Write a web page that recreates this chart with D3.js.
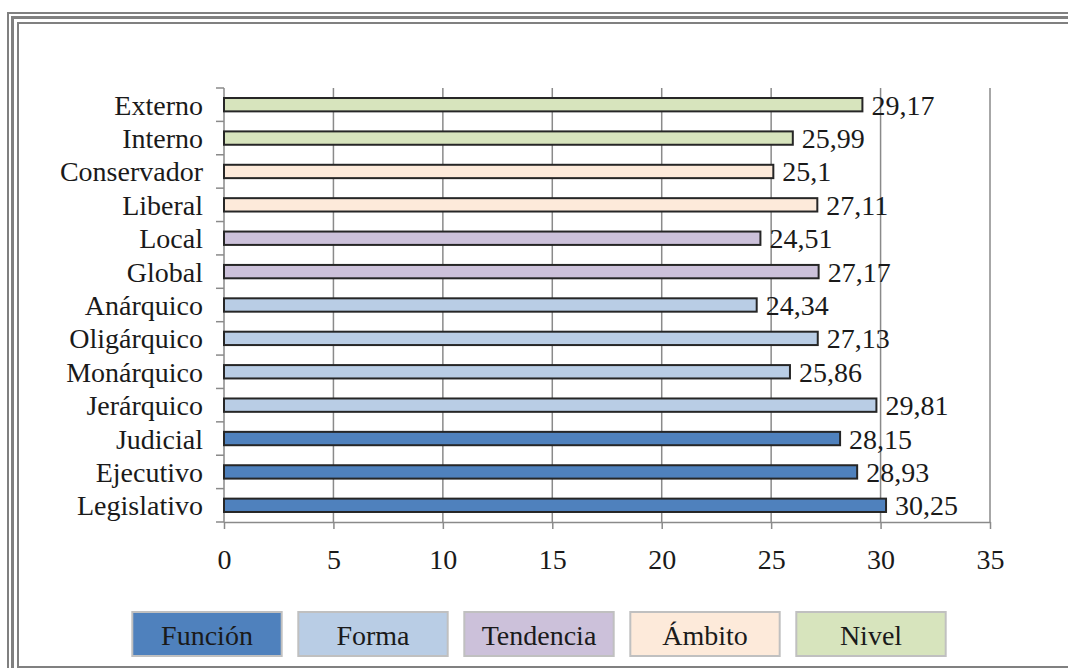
<!DOCTYPE html>
<html>
<head>
<meta charset="utf-8">
<script src="https://cdn.jsdelivr.net/npm/d3@7"></script>
<style>
  body { margin: 0; background: #fff; }
  svg text { font-family: 'Liberation Serif', 'Tinos', 'DejaVu Serif', serif !important; fill: #1a1a1a; }
</style>
</head>
<body>
<svg id="chart" width="1068" height="668"></svg>
<script>
// categories top to bottom, as in the picture
const categories = ['Externo', 'Interno', 'Conservador', 'Liberal', 'Local', 'Global',
  'Anárquico', 'Oligárquico', 'Monárquico', 'Jerárquico', 'Judicial', 'Ejecutivo', 'Legislativo'];
const values = [29.17, 25.99, 25.1, 27.11, 24.51, 27.17, 24.34, 27.13, 25.86, 29.81, 28.15, 28.93, 30.25];
const groupOf = ['Nivel', 'Nivel', 'Ámbito', 'Ámbito', 'Tendencia', 'Tendencia',
  'Forma', 'Forma', 'Forma', 'Forma', 'Función', 'Función', 'Función'];
const groups = ['Función', 'Forma', 'Tendencia', 'Ámbito', 'Nivel'];
const groupColors = ['#4f81bd', '#b9cde5', '#ccc1da', '#fdeada', '#d7e4bd'];
const xTicks = [0, 5, 10, 15, 20, 25, 30, 35];

const FONT = "'Liberation Serif', 'DejaVu Serif', serif";
const svg = d3.select('#chart').style('font-family', FONT);

//********FRAME**********//
[{o: 8, w: 2}, {o: 12.5, w: 3}, {o: 18, w: 2}].forEach((b, i) => {
  svg.append('rect')
    .attr('x', b.o)
    .attr('y', b.o + 5)
    .attr('width', 1200)
    .attr('height', i === 2 ? 667 - (b.o + 5) : 1000)
    .attr('fill', 'none')
    .attr('stroke', '#808080')
    .attr('stroke-width', b.w);
});

//********PLOT**********//
const margin = {top: 88, left: 224, right: 78, bottom: 146};
const width = 1068 - margin.left - margin.right,
      height = 668 - margin.top - margin.bottom;

const g = svg.append('g')
    .attr('transform', `translate(${margin.left},${margin.top})`);

const x = d3.scaleLinear()
    .domain([0, 35])
    .range([0, width]);

const y = d3.scaleBand()
    .domain(categories)
    .range([0, height])
    .paddingInner(0.6)
    .paddingOuter(0.3);

const color = d3.scaleOrdinal()
    .domain(groups)
    .range(groupColors);

// vertical gridlines
g.selectAll('.grid')
  .data(xTicks.slice(1))
  .enter().append('line')
    .attr('class', 'grid')
    .attr('x1', d => x(d))
    .attr('x2', d => x(d))
    .attr('y1', 0)
    .attr('y2', height)
    .attr('stroke', '#8a8a8a')
    .attr('stroke-width', 1.5);

// x axis
const axisX = g.append('g')
    .attr('transform', `translate(0,${height})`)
    .call(d3.axisBottom(x).tickValues(xTicks).tickSize(7).tickPadding(20).tickSizeOuter(0));
axisX.attr('font-family', FONT);
axisX.select('.domain').attr('stroke', '#8a8a8a').attr('stroke-width', 1.5);
axisX.selectAll('.tick line').attr('stroke', '#8a8a8a').attr('stroke-width', 1.5);
axisX.selectAll('.tick text')
    .attr('font-size', 28)
    .attr('fill', '#1a1a1a');

// y axis: line with ticks at band edges
g.append('line')
    .attr('x1', 0).attr('x2', 0)
    .attr('y1', 0).attr('y2', height)
    .attr('stroke', '#8a8a8a')
    .attr('stroke-width', 1.5);
const step = y.step();
g.selectAll('.ytick')
  .data(d3.range(categories.length + 1))
  .enter().append('line')
    .attr('class', 'ytick')
    .attr('x1', -8).attr('x2', 0)
    .attr('y1', i => i * step)
    .attr('y2', i => i * step)
    .attr('stroke', '#8a8a8a')
    .attr('stroke-width', 1.5);

g.selectAll('.cat')
  .data(categories)
  .enter().append('text')
    .attr('class', 'cat')
    .attr('x', -21)
    .attr('y', d => y(d) + y.bandwidth() / 2 + 10)
    .attr('text-anchor', 'end')
    .attr('font-size', 28)
    .text(d => d);

// bars
g.selectAll('.bar')
  .data(categories)
  .enter().append('rect')
    .attr('class', 'bar')
    .attr('x', 0)
    .attr('y', d => y(d))
    .attr('width', (d, i) => x(values[i]))
    .attr('height', y.bandwidth())
    .attr('fill', (d, i) => color(groupOf[i]))
    .attr('stroke', '#262626')
    .attr('stroke-width', 2);

// value labels
g.selectAll('.val')
  .data(categories)
  .enter().append('text')
    .attr('class', 'val')
    .attr('x', (d, i) => x(values[i]) + 9)
    .attr('y', d => y(d) + y.bandwidth() / 2 + 10)
    .attr('font-size', 28)
    .text((d, i) => String(values[i]).replace('.', ','));

//********LEGEND**********//
const lx = d3.scaleBand()
    .domain(groups)
    .range([124, 954])
    .paddingInner(0.1)
    .paddingOuter(0.05);

const leg = svg.selectAll('.leg')
  .data(groups)
  .enter().append('g')
    .attr('class', 'leg')
    .attr('transform', d => `translate(${lx(d)},612)`);

leg.append('rect')
    .attr('width', lx.bandwidth())
    .attr('height', 44)
    .attr('fill', d => color(d))
    .attr('stroke', '#c0c0c0')
    .attr('stroke-width', 2);

leg.append('text')
    .attr('x', lx.bandwidth() / 2)
    .attr('y', 33)
    .attr('text-anchor', 'middle')
    .attr('font-size', 28)
    .text(d => d);
</script>
</body>
</html>
